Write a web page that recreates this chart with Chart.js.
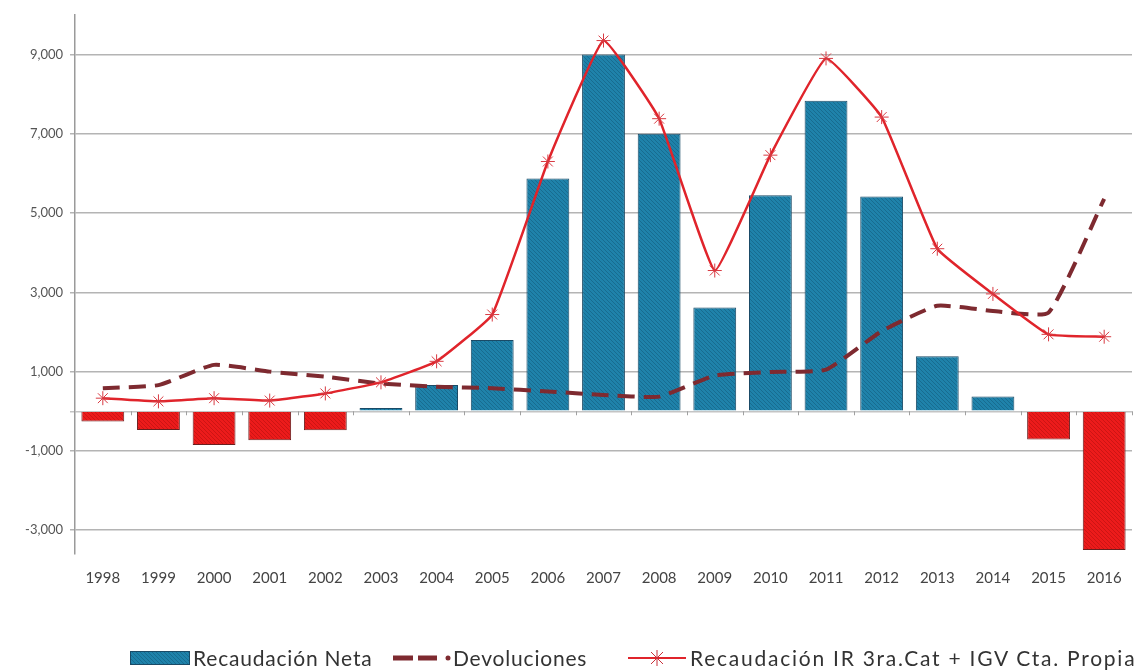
<!DOCTYPE html>
<html>
<head>
<meta charset="utf-8">
<script src="https://cdn.jsdelivr.net/npm/chart.js@4.4.1/dist/chart.umd.min.js"></script>
<style>
  html, body { margin: 0; padding: 0; background: #fff; }
  #wrap { width: 1140px; height: 670px; position: relative; }
  #legend { position: absolute; left: 0; top: 646px; width: 1140px; height: 24px;
            font-family: Lato, sans-serif; font-size: 21px; color: #333; white-space: nowrap; }
  #legend canvas, #legend span { position: absolute; display: block; }
  #legend canvas { top: 3px; }
  #legend span { top: 0; line-height: 24px; letter-spacing: 0.8px; }
</style>
</head>
<body>
<div id="wrap">
  <canvas id="myChart" width="1140" height="670"></canvas>
  <div id="legend"></div>
</div>
<script>
// data
var years = ['1998','1999','2000','2001','2002','2003','2004','2005','2006','2007','2008','2009','2010','2011','2012','2013','2014','2015','2016'];
var recaudacionNeta = [-260, -470, -850, -730, -480, 80, 660, 1800, 5870, 9000, 7000, 2620, 5450, 7830, 5420, 1390, 370, -710, -3500];
var devoluciones = [580, 660, 1170, 1000, 870, 700, 620, 580, 500, 410, 370, 900, 990, 1050, 2020, 2660, 2530, 2490, 5360];
var recaudacionIR = [330, 250, 330, 270, 450, 730, 1260, 2440, 6300, 9350, 7380, 3550, 6460, 8900, 7420, 4100, 2960, 1940, 1880];
var yTicks = [-3000, -1000, 0, 1000, 3000, 5000, 7000, 9000];
var legendNames = ['Recaudación Neta', 'Devoluciones', 'Recaudación IR 3ra.Cat + IGV Cta. Propia'];

function makePattern(base, dark) {
  var c = document.createElement('canvas');
  c.width = 4; c.height = 4;
  var g = c.getContext('2d');
  g.fillStyle = base;
  g.fillRect(0, 0, 4, 4);
  g.fillStyle = dark;
  for (var i = 0; i < 4; i++) g.fillRect(i, (i + 1) % 4, 1, 1);
  return g.createPattern(c, 'repeat');
}
var bluePat = makePattern('#1f82aa', '#176c90');
var redPat = makePattern('#ec1b1b', '#cc1414');

// legend swatches
function swatch(kind) {
  var c = document.createElement('canvas');
  c.width = 60; c.height = 18;
  var g = c.getContext('2d');
  if (kind == 'bar') {
    g.fillStyle = bluePat;
    g.fillRect(0, 2, 60, 14);
    g.strokeStyle = '#1a4a66';
    g.strokeRect(0.5, 2.5, 59, 13);
  } else if (kind == 'dash') {
    g.strokeStyle = '#7e2a30';
    g.lineWidth = 5;
    g.setLineDash([20, 5]);
    g.beginPath(); g.moveTo(2, 9); g.lineTo(46, 9); g.stroke();
    g.fillStyle = '#7e2a30';
    g.beginPath(); g.arc(57, 9, 2.5, 0, Math.PI * 2); g.fill();
  } else {
    g.strokeStyle = '#e0242b';
    g.lineWidth = 2;
    g.beginPath(); g.moveTo(1, 9); g.lineTo(59, 9); g.stroke();
    g.lineWidth = 1;
    g.strokeStyle = '#c8303a';
    g.beginPath();
    g.moveTo(30, 1); g.lineTo(30, 17);
    g.moveTo(24, 3); g.lineTo(36, 15);
    g.moveTo(36, 3); g.lineTo(24, 15);
    g.stroke();
  }
  return c;
}
var legendBox = document.getElementById('legend');
var swatchLeft = [130, 391, 627];
var textLeft = [193, 453, 690];
var textSpacing = ['0.8px', '0.8px', '1.75px'];
['bar', 'dash', 'line'].forEach(function (k, i) {
  var c = swatch(k);
  c.style.left = swatchLeft[i] + 'px';
  legendBox.appendChild(c);
  var s = document.createElement('span');
  s.textContent = legendNames[i];
  s.style.left = textLeft[i] + 'px';
  s.style.letterSpacing = textSpacing[i];
  legendBox.appendChild(s);
});

// small tick marks on the zero line between categories
const zeroTicks = {
  id: 'zeroTicks',
  beforeDatasetsDraw(chart) {
    const x = chart.scales.x, y = chart.scales.y, ctx = chart.ctx;
    const y0 = y.getPixelForValue(0);
    const half = (x.getPixelForValue(1) - x.getPixelForValue(0)) / 2;
    ctx.save();
    ctx.strokeStyle = '#a0a0a0';
    ctx.lineWidth = 1;
    ctx.beginPath();
    for (let i = 0; i < years.length; i++) {
      const px = Math.round(x.getPixelForValue(i) + half) + 0.5;
      ctx.moveTo(px, y0);
      ctx.lineTo(px, y0 + 4);
    }
    ctx.stroke();
    ctx.restore();
  }
};

const config = {
  type: 'bar',
  data: {
    labels: years,
    datasets: [
      {
        type: 'line',
        label: 'Recaudación IR 3ra.Cat + IGV Cta. Propia',
        data: recaudacionIR,
        borderColor: '#e0242b',
        borderWidth: 2.5,
        tension: 0.1,
        pointStyle: 'star',
        pointRadius: 7,
        pointBorderWidth: 1,
        pointBorderColor: '#d83a42',
        pointBackgroundColor: '#d83a42',
        order: 1
      },
      {
        type: 'line',
        label: 'Devoluciones',
        data: devoluciones,
        borderColor: '#7e2a30',
        borderWidth: 4,
        borderDash: [17, 9],
        tension: 0.15,
        pointRadius: 0,
        order: 2
      },
      {
        label: 'Recaudación Neta',
        data: recaudacionNeta,
        backgroundColor: recaudacionNeta.map((v) => v < 0 ? redPat : bluePat),
        borderColor: recaudacionNeta.map((v) => v < 0 ? '#6b1f1f' : '#1a4a66'),
        borderWidth: 1,
        categoryPercentage: 1,
        barPercentage: 0.77,
        order: 3
      }
    ]
  },
  options: {
    responsive: false,
    animation: false,
    layout: { padding: { top: 4, right: 0, left: 0, bottom: 76 } },
    scales: {
      x: {
        grid: { display: false },
        border: { display: false },
        ticks: { color: '#444', font: { family: 'Lato', size: 15 }, padding: 7, maxRotation: 0 },
        afterFit: function (s) { s.height = 40; }
      },
      y: {
        min: -3600,
        max: 10000,
        afterBuildTicks: function (s) { s.ticks = yTicks.map((v) => ({ value: v })); },
        afterFit: function (s) { s.width = 75; },
        grid: {
          color: (c) => c.tick && c.tick.value === 0 ? '#c4c4c4' : '#b4b4b4',
          lineWidth: 1.5,
          tickLength: 5
        },
        border: { display: true, color: '#9a9a9a', width: 1.5 },
        ticks: {
          color: '#555',
          font: { family: 'Lato', size: 13 },
          padding: 7,
          callback: (v) => v === 0 ? '' : v.toLocaleString('en-US')
        }
      }
    },
    plugins: {
      legend: { display: false },
      tooltip: { enabled: false }
    }
  },
  plugins: [zeroTicks]
};

let chartStatus = Chart.getChart('myChart');
if (chartStatus != undefined) {
  chartStatus.destroy();
}
var chartInstance = new Chart(document.getElementById('myChart'), config);
</script>
</body>
</html>
